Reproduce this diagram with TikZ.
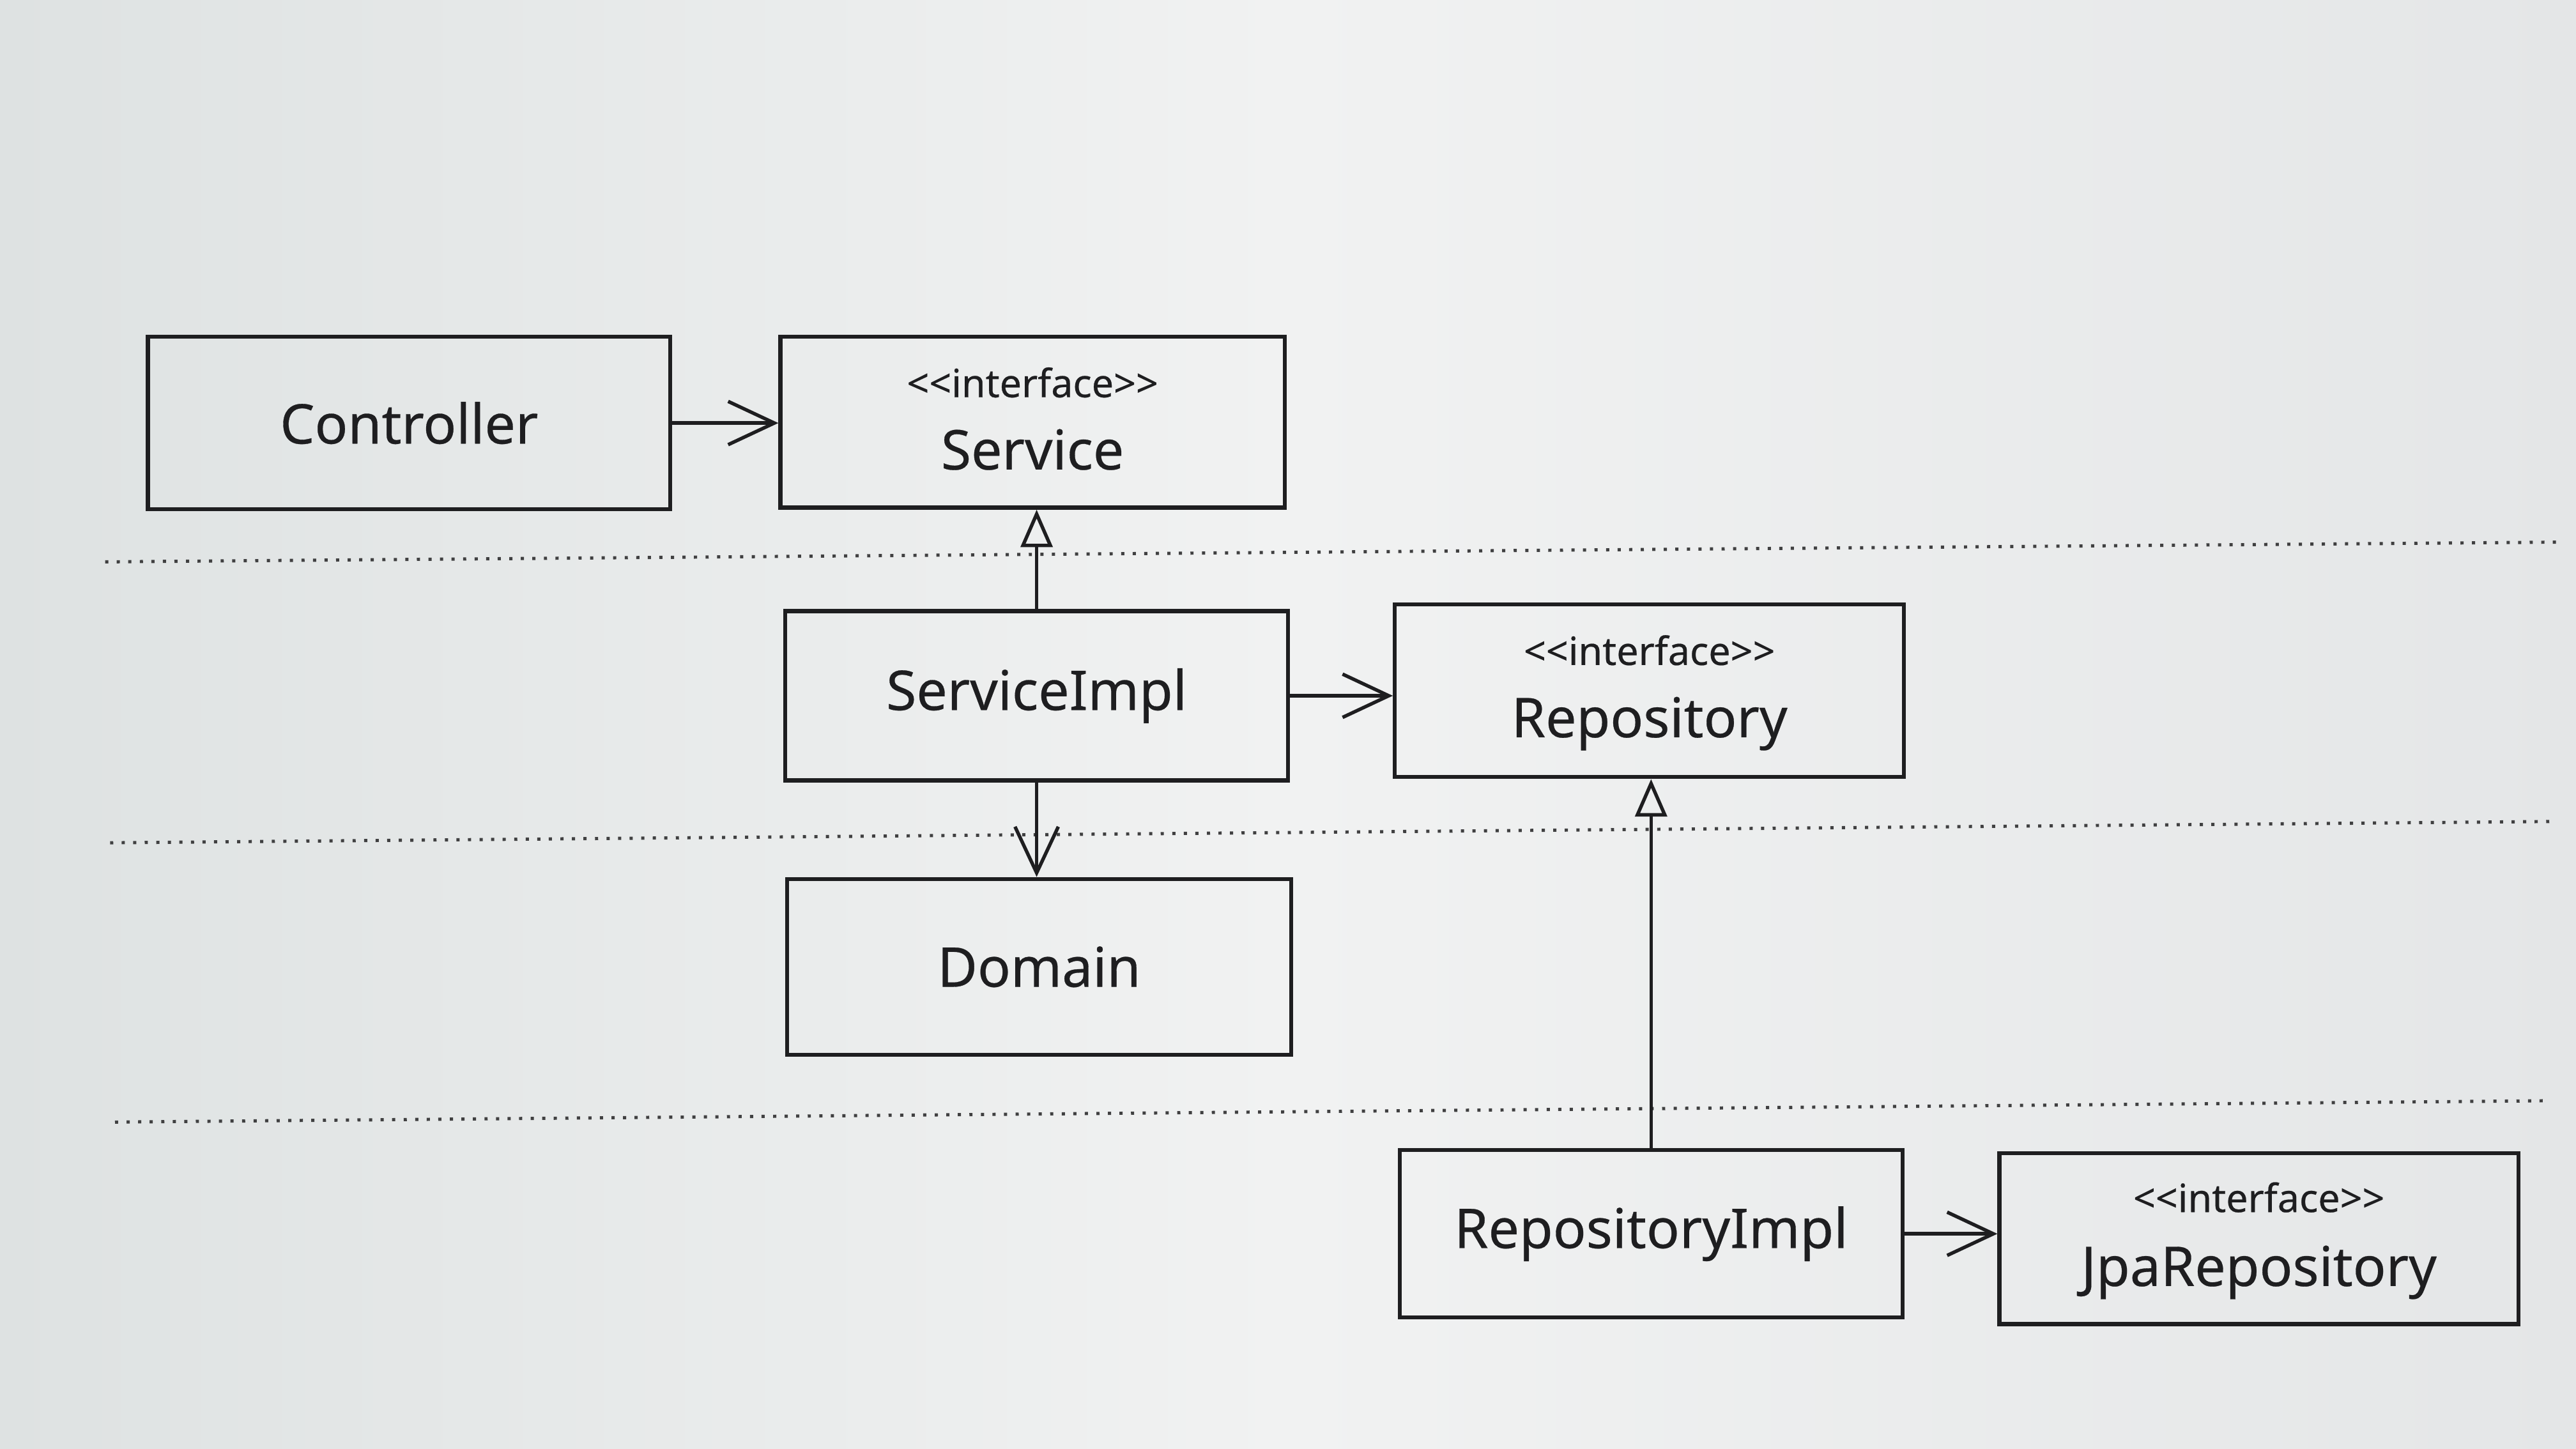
\documentclass[tikz,border=0pt]{standalone}
\usepackage{fontspec}
\setmainfont{Noto Sans}
\newfontfamily\diagfont{Noto Sans}[FakeBold=0.35]
\usetikzlibrary{arrows.meta}
\definecolor{ink}{RGB}{30,30,32}
\definecolor{bgL}{RGB}{222,226,226}
\definecolor{bgM}{RGB}{241,242,242}
\definecolor{bgR}{RGB}{228,230,231}
\newcommand{\stereo}{<\kern0pt<interface>\kern0pt>}
\begin{document}
\begin{tikzpicture}[x=0.02cm,y=-0.02cm,
  box/.style={draw=ink, line width=1.4pt, inner sep=0pt},
  big/.style={font=\diagfont\fontsize{19}{22}\selectfont, text=ink},
  small/.style={font=\diagfont\fontsize{13.5}{16}\selectfont, text=ink},
  dep/.style={draw=ink, line width=1.2pt, -{Straight Barb[length=16pt,width=15pt,line width=1.2pt]}},
  real/.style={draw=ink, line width=1.2pt, -{Triangle[open,length=13pt,width=11pt,line width=1.2pt]}},
  sep/.style={draw=ink!85, line width=1.1pt, dash pattern=on 1.1pt off 2.9pt}]
\shade[left color=bgL, right color=bgR, middle color=bgM] (0,0) rectangle (1568,882);
\useasboundingbox (0,0) rectangle (1568,882);

% layer separators
\coordinate (s1a) at (64,342);  \coordinate (s1b) at (1556,330);
\coordinate (s2a) at (67,513);  \coordinate (s2b) at (1556,500);
\coordinate (s3a) at (70,683);  \coordinate (s3b) at (1552,670);
\draw[sep] (s1a) -- (s1b);
\draw[sep] (s2a) -- (s2b);
\draw[sep] (s3a) -- (s3b);

% boxes
\node[box, big, minimum width=6.36cm, minimum height=2.10cm] (ctrl) at (249,257.5) {Controller};
\node[box, minimum width=6.14cm, minimum height=2.08cm] (svc) at (628.5,257) {};
\node[small, anchor=base] (svcS) at ([yshift=-0.76cm]svc.north) {\stereo};
\node[big, anchor=base] (svcN) at ([yshift=-1.64cm]svc.north) {Service};

\node[box, big, minimum width=6.12cm, minimum height=2.06cm] (simpl) at (631,423.5) {ServiceImpl};

\node[box, minimum width=6.20cm, minimum height=2.10cm] (repo) at (1004,420.5) {};
\node[small, anchor=base] (repoS) at ([yshift=-0.76cm]repo.north) {\stereo};
\node[big, anchor=base] (repoN) at ([yshift=-1.64cm]repo.north) {Repository};

\node[box, big, minimum width=6.14cm, minimum height=2.14cm] (dom) at (632.5,588.5) {Domain};

\node[box, big, minimum width=6.12cm, minimum height=2.04cm] (rimpl) at (1005,751) {RepositoryImpl};

\node[box, minimum width=6.32cm, minimum height=2.08cm] (jpa) at (1375,754) {};
\node[small, anchor=base] (jpaS) at ([yshift=-0.74cm]jpa.north) {\stereo};
\node[big, anchor=base] (jpaN) at ([yshift=-1.64cm]jpa.north) {JpaRepository};

% connectors
\draw[dep] (ctrl.east) -- (ctrl.east -| svc.west);
\draw[real] (simpl.north) -- (simpl.north |- svc.south);
\draw[dep] (simpl.east) -- (simpl.east -| repo.west);
\draw[dep] (simpl.south) -- (simpl.south |- dom.north);
\draw[real] (rimpl.north) -- (rimpl.north |- repo.south);
\draw[dep] (rimpl.east) -- (rimpl.east -| jpa.west);
\end{tikzpicture}
\end{document}
